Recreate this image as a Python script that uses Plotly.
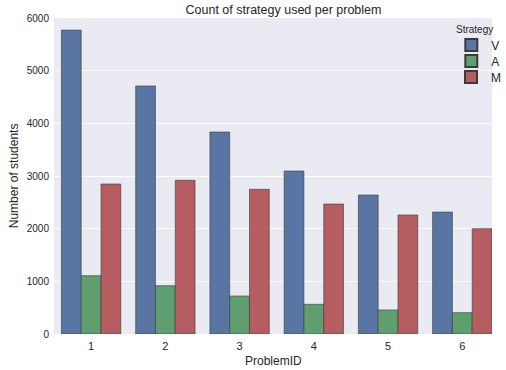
import plotly.graph_objects as go

problems = ["1", "2", "3", "4", "5", "6"]
strategies = ["V", "A", "M"]
v_counts = [5770, 4710, 3835, 3095, 2640, 2316]
a_counts = [1107, 917, 721, 564, 456, 405]
m_counts = [2848, 2918, 2747, 2468, 2259, 2000]
colors = ["#5875a4", "#5f9e6e", "#b55d60"]

PL, PT, PW, PH = 54, 18, 452, 316

def py(pix):
    return (PT + PH - pix) / PH

def px(pix):
    return (pix - PL) / PW

fig = go.Figure()
xs = list(range(len(problems)))
legend_ids = ["legend", "legend2", "legend3"]
legend_y = [45, 61, 77]
for name, vals, col, lid in zip(strategies, [v_counts, a_counts, m_counts], colors, legend_ids):
    fig.add_trace(go.Bar(x=xs, y=vals, name=name, legend=lid, showlegend=True,
                         marker=dict(color=col, line=dict(color="#3a3a3a", width=0.6))))

fig.add_annotation(text="Strategy", xref="paper", yref="paper", x=px(467), y=py(30),
                   xanchor="left", yanchor="middle", showarrow=False, font=dict(size=10, color="#262626"))
fig.add_annotation(text="Number of students", xref="paper", yref="paper", x=px(13), y=0.5, textangle=-90,
                   xanchor="center", yanchor="middle", showarrow=False, font=dict(size=12, color="#262626"))
fig.add_annotation(text="ProblemID", xref="paper", yref="paper", x=0.5, y=py(361),
                   xanchor="center", yanchor="middle", showarrow=False, font=dict(size=12, color="#262626"))

leg_common = dict(xanchor="left", yanchor="middle", bgcolor="rgba(0,0,0,0)", font=dict(size=12),
                  itemsizing="constant", itemwidth=30)
legends = {}
for lid, ypix in zip(legend_ids, legend_y):
    legends[lid] = dict(x=px(464), y=py(ypix), **leg_common)

fig.update_layout(
    width=506, height=370, showlegend=True,
    margin=dict(l=PL, r=506 - PL - PW, t=PT, b=370 - PT - PH),
    paper_bgcolor="white", plot_bgcolor="#EAEAF2",
    barmode="group", bargap=0.2, bargroupgap=0,
    font=dict(family="Liberation Sans, Arial, sans-serif", color="#262626", size=11),
    title=dict(text="Count of strategy used per problem", x=283.5 / 506, xanchor="center", y=1 - 10 / 370,
               yanchor="middle", font=dict(size=12.5, color="#262626"), automargin=False),
    xaxis=dict(range=[-0.5, 5.4], tickvals=xs, ticktext=problems, showgrid=False, zeroline=False, automargin=False,
               ticks="", tickfont=dict(size=11), ticklabelstandoff=4),
    yaxis=dict(range=[0, 6000], tickvals=[0, 1000, 2000, 3000, 4000, 5000, 6000], gridcolor="white", gridwidth=1,
               zeroline=False, automargin=False, ticks="", tickfont=dict(size=10), ticklabelstandoff=4),
    **legends,
)
fig.write_html("out.html", post_script="document.body.style.margin='0';", config={"displayModeBar": False})
